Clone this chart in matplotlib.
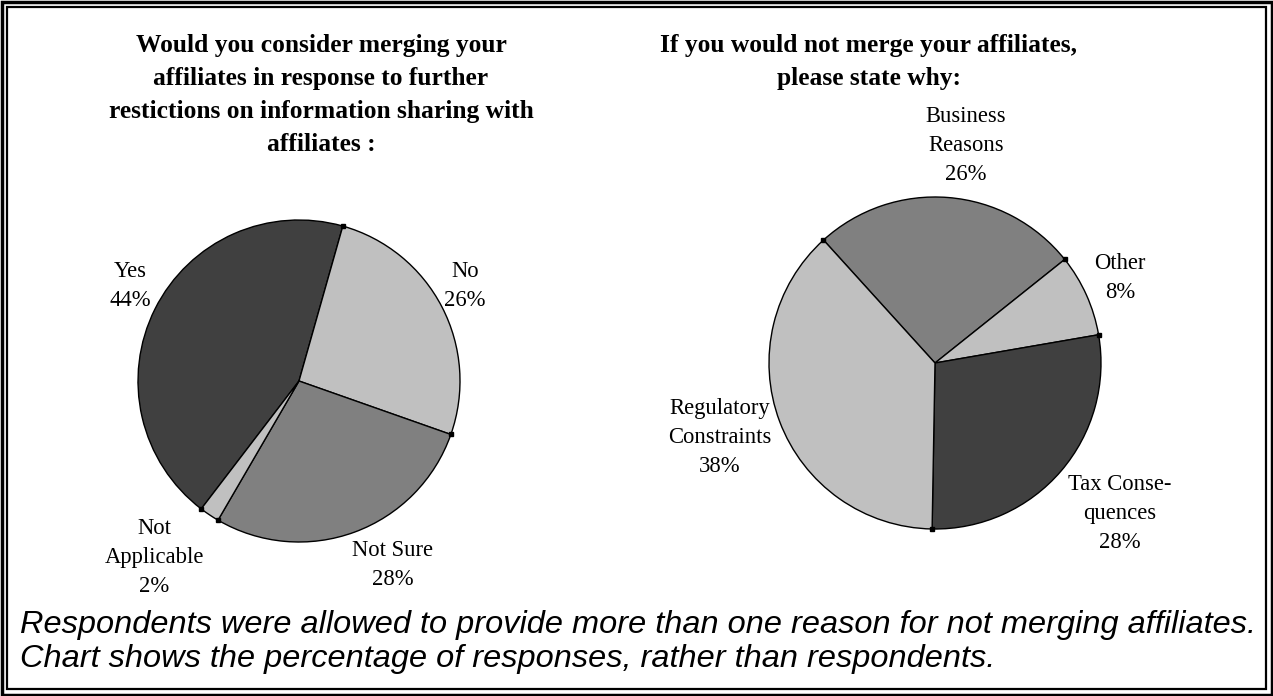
import matplotlib
matplotlib.use("Agg")
import matplotlib.pyplot as plt
from matplotlib.patches import Rectangle
import numpy as np

W, H = 1273, 696

# Data
left_title = "Would you consider merging your\naffiliates in response to further\nrestictions on information sharing with\naffiliates :"
left_cats = ["Yes", "No", "Not Sure", "Not\nApplicable"]
left_vals = [44, 26, 28, 2]
left_colors = ["#404040", "#c0c0c0", "#808080", "#c0c0c0"]

right_title = "If you would not merge your affiliates,\nplease state why:"
right_cats = ["Business\nReasons", "Other", "Tax Conse-\nquences", "Regulatory\nConstraints"]
right_vals = [26, 8, 28, 38]
right_colors = ["#808080", "#c0c0c0", "#404040", "#c0c0c0"]

note = ("Respondents were allowed to provide more than one reason for not merging affiliates.\n"
        "Chart shows the percentage of responses, rather than respondents.")

def Y(py):
    return H - py

fig = plt.figure(figsize=(W / 100, H / 100), dpi=100)
ax = fig.add_axes([0, 0, 1, 1])

serif = "Liberation Serif"
lab_fs = 16.3

# Left pie
lw, _ = ax.pie(left_vals, colors=left_colors, center=(299, Y(381)), radius=161,
               counterclock=False, startangle=90 - 217.4,
               wedgeprops=dict(edgecolor="black", linewidth=1.0), frame=True)
# Right pie
rw, _ = ax.pie(right_vals, colors=right_colors, center=(935, Y(363)), radius=166,
               counterclock=False, startangle=90 - 317.8,
               wedgeprops=dict(edgecolor="black", linewidth=1.0), frame=True)

# small black squares at slice boundaries on the rim
for wedges in (lw, rw):
    for w in wedges:
        cx, cy = w.center
        t = np.deg2rad(w.theta1)
        ax.plot(cx + w.r * np.cos(t), cy + w.r * np.sin(t), marker="s",
                markersize=2.5, color="black", zorder=5)

ax.set_xlim(0, W)
ax.set_ylim(0, H)
ax.set_aspect("auto")
ax.axis("off")

def lab(x, y, name, val):
    ax.text(x, Y(y), f"{name}\n{val}%", ha="center", va="top", fontsize=lab_fs,
            family=serif, linespacing=1.5, color="black")

left_pos = [(130, 261), (465, 261), (393, 540), (154, 518)]
for (x, y), c, v in zip(left_pos, left_cats, left_vals):
    lab(x, y, c, v)

right_pos = [(966, 106), (1120, 253), (1120, 474), (720, 398)]
for (x, y), c, v in zip(right_pos, right_cats, right_vals):
    lab(x, y, c, v)

ax.text(321, Y(34), left_title, ha="center", va="top", fontsize=18.4, family=serif,
        fontweight="bold", linespacing=1.55)
ax.text(869, Y(34), right_title, ha="center", va="top", fontsize=18.4, family=serif,
        fontweight="bold", linespacing=1.55)

ax.text(20, Y(610), note, ha="left", va="top", fontsize=23.4, family="Liberation Sans",
        style="italic", linespacing=1.17)

# Double border
ax.add_patch(Rectangle((1.5, 1.5), W - 3, H - 3, fill=False, edgecolor="black", linewidth=2.5))
ax.add_patch(Rectangle((7, 7), W - 14, H - 14, fill=False, edgecolor="black", linewidth=1.6))

fig.savefig("out.png", dpi=100)
